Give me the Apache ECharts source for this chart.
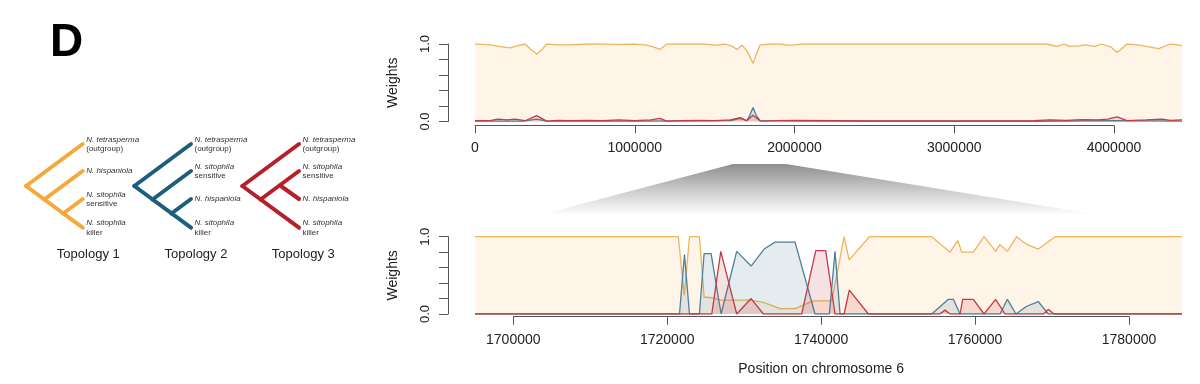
<!DOCTYPE html>
<html>
<head>
<meta charset="utf-8">
<script src="https://cdn.jsdelivr.net/npm/echarts@6/dist/echarts.min.js"></script>
<style>
html,body{margin:0;padding:0;background:#fff;}
#chart{width:1200px;height:384px;}
</style>
</head>
<body>
<div id="chart"></div>
<script>
// ---------- DATA ----------
// Top panel: whole chromosome 6
const topT1Pos = [0,50000,94000,150000,219000,270000,313000,350000,386000,420000,449000,520000,595000,700000,804000,900000,1000000,1075000,1120000,1158000,1200000,1300000,1430000,1514000,1566000,1610000,1640000,1670000,1700000,1720000,1740000,1760000,1785000,1850000,1910000,1960000,2000000,2050000,2300000,2600000,2900000,3200000,3475000,3580000,3640000,3690000,3720000,3780000,3820000,3880000,3920000,3980000,4020000,4080000,4150000,4200000,4280000,4350000,4400000,4425000];
const topT1W   = [1.0,0.995,0.99,0.97,0.95,0.98,1.0,0.93,0.87,0.93,1.0,0.99,0.99,1.0,1.0,0.995,1.0,0.985,0.96,0.93,1.0,1.0,1.0,0.985,1.0,0.97,0.93,0.985,0.92,0.84,0.75,0.86,0.99,1.0,1.0,0.985,0.99,1.0,1.0,1.0,1.0,1.0,1.0,1.0,0.97,1.0,0.97,0.975,0.99,0.97,1.0,0.96,0.89,1.0,0.99,0.97,0.94,1.0,0.99,0.98];
const topT2Pos = [0,300000,386000,450000,1000000,1600000,1660000,1700000,1720000,1740000,1760000,1785000,2500000,3500000,4000000,4425000];
const topT2W   = [0.005,0.005,0.03,0.005,0.005,0.01,0.04,0.01,0.08,0.18,0.08,0.01,0.003,0.003,0.01,0.005];
const topT3Pos = [0,100000,146000,200000,250000,313000,386000,449000,520000,600000,700000,800000,900000,1000000,1100000,1158000,1200000,1300000,1400000,1500000,1600000,1660000,1700000,1740000,1785000,1900000,2000000,2500000,3000000,3500000,3600000,3700000,3800000,3900000,3960000,4020000,4080000,4200000,4300000,4350000,4425000];
const topT3W   = [0.01,0.015,0.03,0.02,0.03,0.01,0.075,0.005,0.015,0.01,0.015,0.01,0.02,0.01,0.02,0.04,0.005,0.01,0.015,0.01,0.02,0.05,0.01,0.08,0.005,0.01,0.015,0.008,0.008,0.01,0.02,0.015,0.025,0.02,0.03,0.06,0.01,0.02,0.03,0.015,0.02];

// Bottom panel: zoom on 1.695-1.787 Mb
const botT1Pos = [1695000,1721430,1722200,1722880,1724170,1724780,1725780,1726990,1730760,1732490,1734650,1736600,1738980,1741380,1742980,1743630,1746270,1754370,1756750,1757750,1758270,1759780,1761170,1762680,1763250,1764200,1765410,1766710,1768230,1770390,1786900];
const botT1W   = [1.0,1.0,0.24,1.0,1.0,0.22,0.21,0.18,0.18,0.15,0.07,0.07,0.17,0.17,1.0,0.70,1.0,1.0,0.80,0.95,0.80,0.80,1.0,0.81,0.90,0.81,1.0,0.90,0.84,1.0,1.0];
const botT2Pos = [1695000,1721580,1722230,1722880,1724170,1724780,1725690,1726990,1729020,1730890,1732580,1734000,1736600,1739200,1741060,1741800,1742450,1754370,1756530,1757180,1758050,1763250,1764200,1765320,1766710,1768230,1769520,1786900];
const botT2W   = [0,0,0.77,0,0,0.78,0.78,0,0.81,0.62,0.84,0.93,0.93,0,0,0.81,0,0,0.19,0.19,0,0,0.19,0,0.10,0.16,0,0];
const botT3Pos = [1695000,1725780,1726950,1729020,1730890,1732490,1737470,1739290,1740590,1741800,1742980,1743650,1746140,1755400,1756100,1756750,1758050,1758400,1759780,1761170,1762680,1763900,1768900,1769520,1770260,1786900];
const botT3W   = [0,0,0.81,0,0.20,0,0,0.82,0.82,0,0,0.31,0,0,0.05,0,0,0.19,0.19,0,0.19,0,0,0.06,0,0];

const topologyNames = ['Topology 1','Topology 2','Topology 3'];
const yTickLabels = {0:'0.0', 1:'1.0'};
const xAxisTitle = 'Position on chromosome 6';
const yAxisTitle = 'Weights';
const panelLetter = 'D';

// ---------- STYLE ----------
const FONT = "'Liberation Sans', Arial, Helvetica, sans-serif";
const lineCol = ['#f0b45a', '#4f7f98', '#c23b45'];
const fillCol = ['rgba(245,170,70,0.18)', 'rgba(70,120,150,0.2)', 'rgba(200,50,60,0.2)'];
const treeCol = ['#f5a93a', '#1b5f7c', '#b5202a'];

function zip(a, b) { return a.map((v, i) => [v, b[i]]); }

function mkSeries(idx, xi, pos, w) {
  return {
    type: 'line', xAxisIndex: xi, yAxisIndex: xi, data: zip(pos, w),
    showSymbol: false, symbol: 'none', silent: true,
    lineStyle: { color: lineCol[idx], width: 1.3 },
    areaStyle: { color: fillCol[idx], origin: 'start' },
    z: 2 + idx
  };
}

function yAxisDef(grid) {
  return {
    gridIndex: grid, type: 'value', min: 0, max: 1, interval: 0.2, offset: 27,
    axisLine: { show: true, onZero: false, lineStyle: { color: '#555', width: 1 } },
    axisTick: { show: true, length: 9, lineStyle: { color: '#555' } },
    splitLine: { show: false },
    axisLabel: {
      rotate: 90, margin: 16, fontSize: 13, color: '#222', fontFamily: FONT,
      showMinLabel: true, showMaxLabel: true,
      formatter: v => (Math.abs(v) < 1e-9 ? yTickLabels[0] : (Math.abs(v - 1) < 1e-9 ? yTickLabels[1] : ''))
    },
    name: yAxisTitle, nameLocation: 'middle', nameGap: 48,
    nameTextStyle: { fontSize: 14, color: '#222', fontFamily: FONT }
  };
}
function hiddenY(grid) { return { gridIndex: grid, type: 'value', min: 0, max: 1, show: false }; }
function xAxisDef(grid, min, max, interval, extra) {
  return Object.assign({
    gridIndex: grid, type: 'value', min: min, max: max, interval: interval,
    axisLine: { show: true, onZero: false, lineStyle: { color: '#555', width: 1 } },
    axisTick: { show: true, length: 8, lineStyle: { color: '#555' } },
    splitLine: { show: false },
    axisLabel: { margin: 16, fontSize: 14, color: '#222', fontFamily: FONT,
      showMinLabel: true, showMaxLabel: true, formatter: v => String(v) }
  }, extra || {});
}

// ---------- TREES (graphic) ----------
const graphics = [];
graphics.push({ type: 'text', left: 50, top: 20, style: { text: panelLetter, font: 'bold 46px ' + FONT, fill: '#000' } });

const tipYs = [144, 171, 199, 227.7];
const s = 0.74, rootY = 186;
const treeX = [26, 134.3, 242.3];
const tipLabels = [
  [['N. tetrasperma','(outgroup)'], ['N. hispaniola'], ['N. sitophila','sensitive'], ['N. sitophila','killer']],
  [['N. tetrasperma','(outgroup)'], ['N. sitophila','sensitive'], ['N. hispaniola'], ['N. sitophila','killer']],
  [['N. tetrasperma','(outgroup)'], ['N. sitophila','sensitive'], ['N. hispaniola'], ['N. sitophila','killer']]
];
treeX.forEach((x0, t) => {
  const tx = x0 + 56.7;
  const segs = [
    [x0, rootY, tx, tipYs[0]],
    [x0, rootY, tx, tipYs[3]],
    [x0 + 18.2, 199.5, tx, tipYs[1]]
  ];
  if (t < 2) segs.push([x0 + 37.15, 213.5, tx, tipYs[2]]);
  else segs.push([x0 + 37.8, 185.5, tx, tipYs[2]]);
  segs.forEach(g => graphics.push({
    type: 'line', shape: { x1: g[0], y1: g[1], x2: g[2], y2: g[3] },
    style: { stroke: treeCol[t], lineWidth: 4, lineCap: 'round' }, silent: true
  }));
  tipLabels[t].forEach((lab, k) => {
    const txt = lab.length === 2 ? '{i|' + lab[0] + '}\n{n|' + lab[1] + '}' : '{i|' + lab[0] + '}';
    const firstY = (lab.length === 2) ? (k === 0 ? 139.5 : (k === 3 ? 223 : tipYs[k] - 4.5)) : tipYs[k];
    graphics.push({
      type: 'text', x: tx + 3.5, y: firstY - 5, silent: true,
      style: {
        text: txt, fill: '#333', font: '8px ' + FONT, verticalAlign: 'top', align: 'left',
        rich: { i: { fontStyle: 'italic', fontSize: 8, lineHeight: 9.8, fontFamily: FONT, fill: '#333' },
                n: { fontSize: 8, lineHeight: 9.8, fontFamily: FONT, fill: '#333' } }
      }
    });
  });
  graphics.push({
    type: 'text', x: [88.3, 196, 303.3][t], y: 254, silent: true,
    style: { text: topologyNames[t], font: '13px ' + FONT, fill: '#222', align: 'center', verticalAlign: 'middle' }
  });
});

// zoom trapezoid
graphics.push({
  type: 'polygon', silent: true, z: -1,
  shape: { points: [[733, 164], [786, 164], [1100, 215], [540, 215]] },
  style: { fill: { type: 'linear', x: 0, y: 0, x2: 0, y2: 1,
    colorStops: [{ offset: 0, color: '#8d8e90' }, { offset: 0.55, color: '#cfcfd0' }, { offset: 1, color: '#ffffff' }] } }
});

// ---------- CHART ----------
const chart = echarts.init(document.getElementById('chart'), null, { renderer: 'canvas' });
chart.setOption({
  animation: false,
  backgroundColor: '#ffffff',
  textStyle: { fontFamily: FONT },
  grid: [
    { left: 475, top: 44, width: 707, height: 77.5 },
    { left: 475, top: 120, width: 639, height: 5.3 },
    { left: 475, top: 236.7, width: 707, height: 77.3 },
    { left: 513.3, top: 310, width: 615.7, height: 6.7 }
  ],
  xAxis: [
    { gridIndex: 0, type: 'value', min: 0, max: 4425000, show: false },
    xAxisDef(1, 0, 4000000, 1000000),
    { gridIndex: 2, type: 'value', min: 1695000, max: 1786900, show: false },
    xAxisDef(3, 1700000, 1780000, 20000, {
      name: xAxisTitle, nameLocation: 'middle', nameGap: 45,
      nameTextStyle: { fontSize: 14, color: '#222', fontFamily: FONT }
    })
  ],
  yAxis: [yAxisDef(0), hiddenY(1), yAxisDef(2), hiddenY(3)],
  series: [
    mkSeries(0, 0, topT1Pos, topT1W),
    mkSeries(1, 0, topT2Pos, topT2W),
    mkSeries(2, 0, topT3Pos, topT3W),
    mkSeries(0, 2, botT1Pos, botT1W),
    mkSeries(1, 2, botT2Pos, botT2W),
    mkSeries(2, 2, botT3Pos, botT3W)
  ],
  graphic: graphics
});
</script>
</body>
</html>
